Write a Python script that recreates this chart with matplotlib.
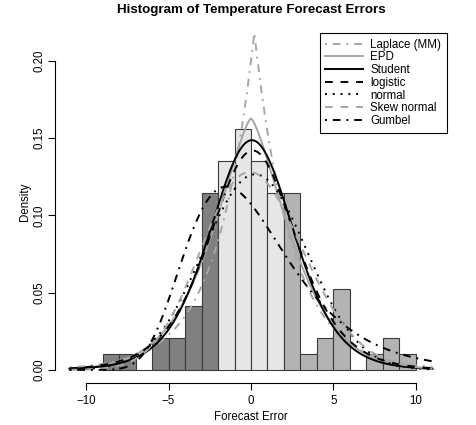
import math
import matplotlib
matplotlib.use("Agg")
import matplotlib.pyplot as plt
from matplotlib.lines import Line2D
import numpy as np

# histogram of forecast errors (bins of width 1)
bin_left = [-9, -8, -7, -6, -5, -4, -3, -2, -1, 0, 1, 2, 3, 4, 5, 6, 7, 8, 9]
counts = [1, 1, 0, 2, 2, 4, 11, 13, 15, 13, 11, 11, 1, 2, 5, 0, 1, 2, 1]

# fitted distributions (parameters)
laplace_mu, laplace_b = 0.2, 2.29
epd_mu, epd_sigma, epd_p = 0.0, 2.65, 1.4
student_mu, student_s, student_nu = 0.05, 2.6, 8
logis_mu, logis_s = 0.1, 1.76
norm_mu, norm_sd = 0.25, 3.15
sn_xi, sn_omega, sn_alpha = -2.19, 3.99, 1.2
gumbel_mu, gumbel_beta = -1.5, 3.1

xs = np.linspace(-11, 11, 600)


def dnorm(z):
    return np.exp(-0.5 * z ** 2) / math.sqrt(2 * math.pi)


pnorm = np.vectorize(lambda z: 0.5 * (1 + math.erf(z / math.sqrt(2))))

d_laplace = np.exp(-np.abs(xs - laplace_mu) / laplace_b) / (2 * laplace_b)
d_epd = np.exp(-np.abs(xs - epd_mu) ** epd_p / (epd_p * epd_sigma ** epd_p)) / (
    2 * epd_p ** (1 / epd_p) * math.gamma(1 + 1 / epd_p) * epd_sigma)
t = (xs - student_mu) / student_s
d_student = (math.gamma((student_nu + 1) / 2) / (math.sqrt(student_nu * math.pi) * math.gamma(student_nu / 2))
             * (1 + t ** 2 / student_nu) ** (-(student_nu + 1) / 2) / student_s)
e = np.exp(-(xs - logis_mu) / logis_s)
d_logis = e / (logis_s * (1 + e) ** 2)
d_norm = dnorm((xs - norm_mu) / norm_sd) / norm_sd
z = (xs - sn_xi) / sn_omega
d_sn = 2 / sn_omega * dnorm(z) * pnorm(sn_alpha * z)
g = (xs - gumbel_mu) / gumbel_beta
d_gumbel = np.exp(-g - np.exp(-g)) / gumbel_beta

fig = plt.figure(figsize=(4.76, 4.25), dpi=100)
plt.rcParams['font.family'] = ['Liberation Sans', 'DejaVu Sans']
W, H = 476, 425
ax = fig.add_axes([55 / W, 1 - 383.4 / H, 392 / W, 362.9 / H])

# bars
total = sum(counts)
dens = [c / total for c in counts]
cols = []
for b in bin_left:
    if b < -2:
        cols.append('#808080')
    elif b < 2:
        cols.append('#e6e6e6')
    else:
        cols.append('#b3b3b3')
ax.bar(bin_left, dens, width=1, align='edge', color=cols, edgecolor='#3a3a3a', linewidth=0.8, zorder=1)

lw = 1.4
gray = '#a6a6a6'
curves = [
    (d_laplace, 'Laplace (MM)', gray, (0, (1, 3, 4, 3))),
    (d_epd, 'EPD', gray, '-'),
    (d_student, 'Student', 'black', '-'),
    (d_logis, 'logistic', 'black', (0, (4, 4))),
    (d_norm, 'normal', 'black', (0, (1, 3))),
    (d_sn, 'Skew normal', gray, (0, (4, 4))),
    (d_gumbel, 'Gumbel', 'black', (0, (1, 3, 4, 3))),
]
handles = []
for d, lab, c, ls in curves:
    ax.plot(xs, d, color=c, linestyle=ls, linewidth=lw, zorder=3)
    handles.append(Line2D([], [], color=c, linestyle=ls, linewidth=lw))

ax.set_xlim(-11.88, 11.88)
ax.set_ylim(-0.0087, 0.2262)
for s in ['top', 'right']:
    ax.spines[s].set_visible(False)
ax.spines['left'].set_bounds(0, 0.2)
ax.spines['bottom'].set_bounds(-10, 10)
ax.set_xticks([-10, -5, 0, 5, 10])
ax.set_xticklabels(['\u221210', '\u22125', '0', '5', '10'])
ax.set_yticks([0, 0.05, 0.10, 0.15, 0.20])
ax.set_yticklabels(['0.00', '0.05', '0.10', '0.15', '0.20'], rotation=90, va='center')
ax.tick_params(direction='out', length=5, width=0.8, labelsize=8.3)
ax.tick_params(axis='x', pad=3.5)
ax.tick_params(axis='y', pad=2)

leg = ax.legend(handles, [c[1] for c in curves], loc='upper right',
                bbox_to_anchor=(447 / W, 1 - 33 / H), bbox_transform=fig.transFigure,
                fontsize=8.3, handlelength=3.3, handletextpad=0.6, labelspacing=0.06,
                borderpad=0.5, borderaxespad=0, fancybox=False, framealpha=1)
leg.get_frame().set_edgecolor('black')
leg.get_frame().set_linewidth(0.8)

fig.text(251 / W, 1 - 10 / H, 'Histogram of Temperature Forecast Errors', ha='center', va='center',
         fontsize=9.6, fontweight='bold')
fig.text(251 / W, 1 - 417 / H, 'Forecast Error', ha='center', va='center', fontsize=8.3)
fig.text(25 / W, 1 - 202 / H, 'Density', ha='center', va='center', rotation=90, fontsize=8.3)

fig.savefig('out.png', dpi=100)
